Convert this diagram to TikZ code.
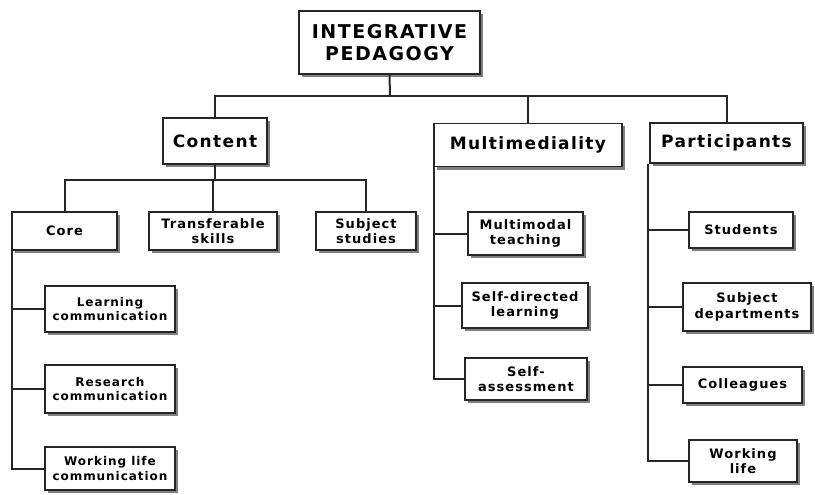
\documentclass[tikz,border=0pt]{standalone}
\usepackage{fontspec}
\setmainfont{DejaVu Sans}[LetterSpace=8]
\usetikzlibrary{shadows}
\begin{document}
\begin{tikzpicture}[x=1pt,y=-1pt,
  box/.style={draw=black!85, line width=1.2pt, fill=white, align=center, inner sep=0pt,
    drop shadow={shadow xshift=3pt, shadow yshift=-3pt, fill=black!50, opacity=1}},
  lvA/.style={box, font=\fontsize{19}{22}\selectfont\bfseries},
  lvB/.style={box, font=\fontsize{17}{20}\selectfont\bfseries},
  lvC/.style={box, font=\fontsize{13}{15.5}\selectfont\bfseries},
  lvD/.style={box, font=\fontsize{12}{14.5}\selectfont\bfseries},
  conn/.style={draw=black!85, line width=2pt}]
\useasboundingbox (0,0) rectangle (815,495);
% top
\node[lvA, minimum width=181, minimum height=63] (top) at (389.5,42.5) {INTEGRATIVE\\PEDAGOGY};
% level 1
\node[lvB, minimum width=104, minimum height=46] (content) at (215,141) {Content};
\node[lvB, minimum width=188, minimum height=43] (mm) at (528,145) {Multimediality};
\node[lvB, minimum width=153, minimum height=40] (part) at (726.5,143) {Participants};
% content children
\node[lvC, minimum width=105, minimum height=38] (core) at (64.5,231) {Core};
\node[lvC, minimum width=128, minimum height=38] (trans) at (213,231) {Transferable\\skills};
\node[lvC, minimum width=100, minimum height=38] (subj) at (366,231) {Subject\\studies};
% core children
\node[lvD, minimum width=130, minimum height=46] (lc) at (110,309) {Learning\\communication};
\node[lvD, minimum width=130, minimum height=48] (rc) at (110,389) {Research\\communication};
\node[lvD, minimum width=130, minimum height=43] (wc) at (110,468.5) {Working life\\communication};
% multimediality children
\node[lvC, minimum width=115, minimum height=43] (mt) at (525.5,233.5) {Multimodal\\teaching};
\node[lvC, minimum width=126, minimum height=45] (sd) at (525,305.5) {Self-directed\\learning};
\node[lvC, minimum width=122, minimum height=42] (sa) at (526,379) {Self-\\assessment};
% participants children
\node[lvC, minimum width=104, minimum height=36] (stu) at (741,230) {Students};
\node[lvC, minimum width=128, minimum height=48] (dep) at (747,307) {Subject\\departments};
\node[lvC, minimum width=119, minimum height=36] (col) at (742.5,385) {Colleagues};
\node[lvC, minimum width=108, minimum height=42] (wl) at (743,461) {Working\\life};
% connectors
\coordinate (h0) at (390,96);
\coordinate (h1) at (215,180);
\coordinate (vc) at ([xshift=0.6pt]core.south west);
\coordinate (vm) at ([xshift=0.6pt]mm.south west);
\coordinate (vp) at ([xshift=-1pt]part.south west);
\draw[conn] (top.south) -- (h0);
\draw[conn] (content.north) -- (content.north |- h0) -- (part.north |- h0) -- (part.north);
\draw[conn] (mm.north |- h0) -- (mm.north);
\draw[conn] (content.south) -- (h1);
\draw[conn] (core.north) -- (core.north |- h1) -- (subj.north |- h1) -- (subj.north);
\draw[conn] (trans.north |- h1) -- (trans.north);
\draw[conn] (vc) -- (vc |- wc.west) -- (wc.west);
\draw[conn] (vc |- lc.west) -- (lc.west);
\draw[conn] (vc |- rc.west) -- (rc.west);
\draw[conn] (vm) -- (vm |- sa.west) -- (sa.west);
\draw[conn] (vm |- mt.west) -- (mt.west);
\draw[conn] (vm |- sd.west) -- (sd.west);
\draw[conn] (vp) -- (vp |- wl.west) -- (wl.west);
\draw[conn] (vp |- stu.west) -- (stu.west);
\draw[conn] (vp |- dep.west) -- (dep.west);
\draw[conn] (vp |- col.west) -- (col.west);
\end{tikzpicture}
\end{document}
